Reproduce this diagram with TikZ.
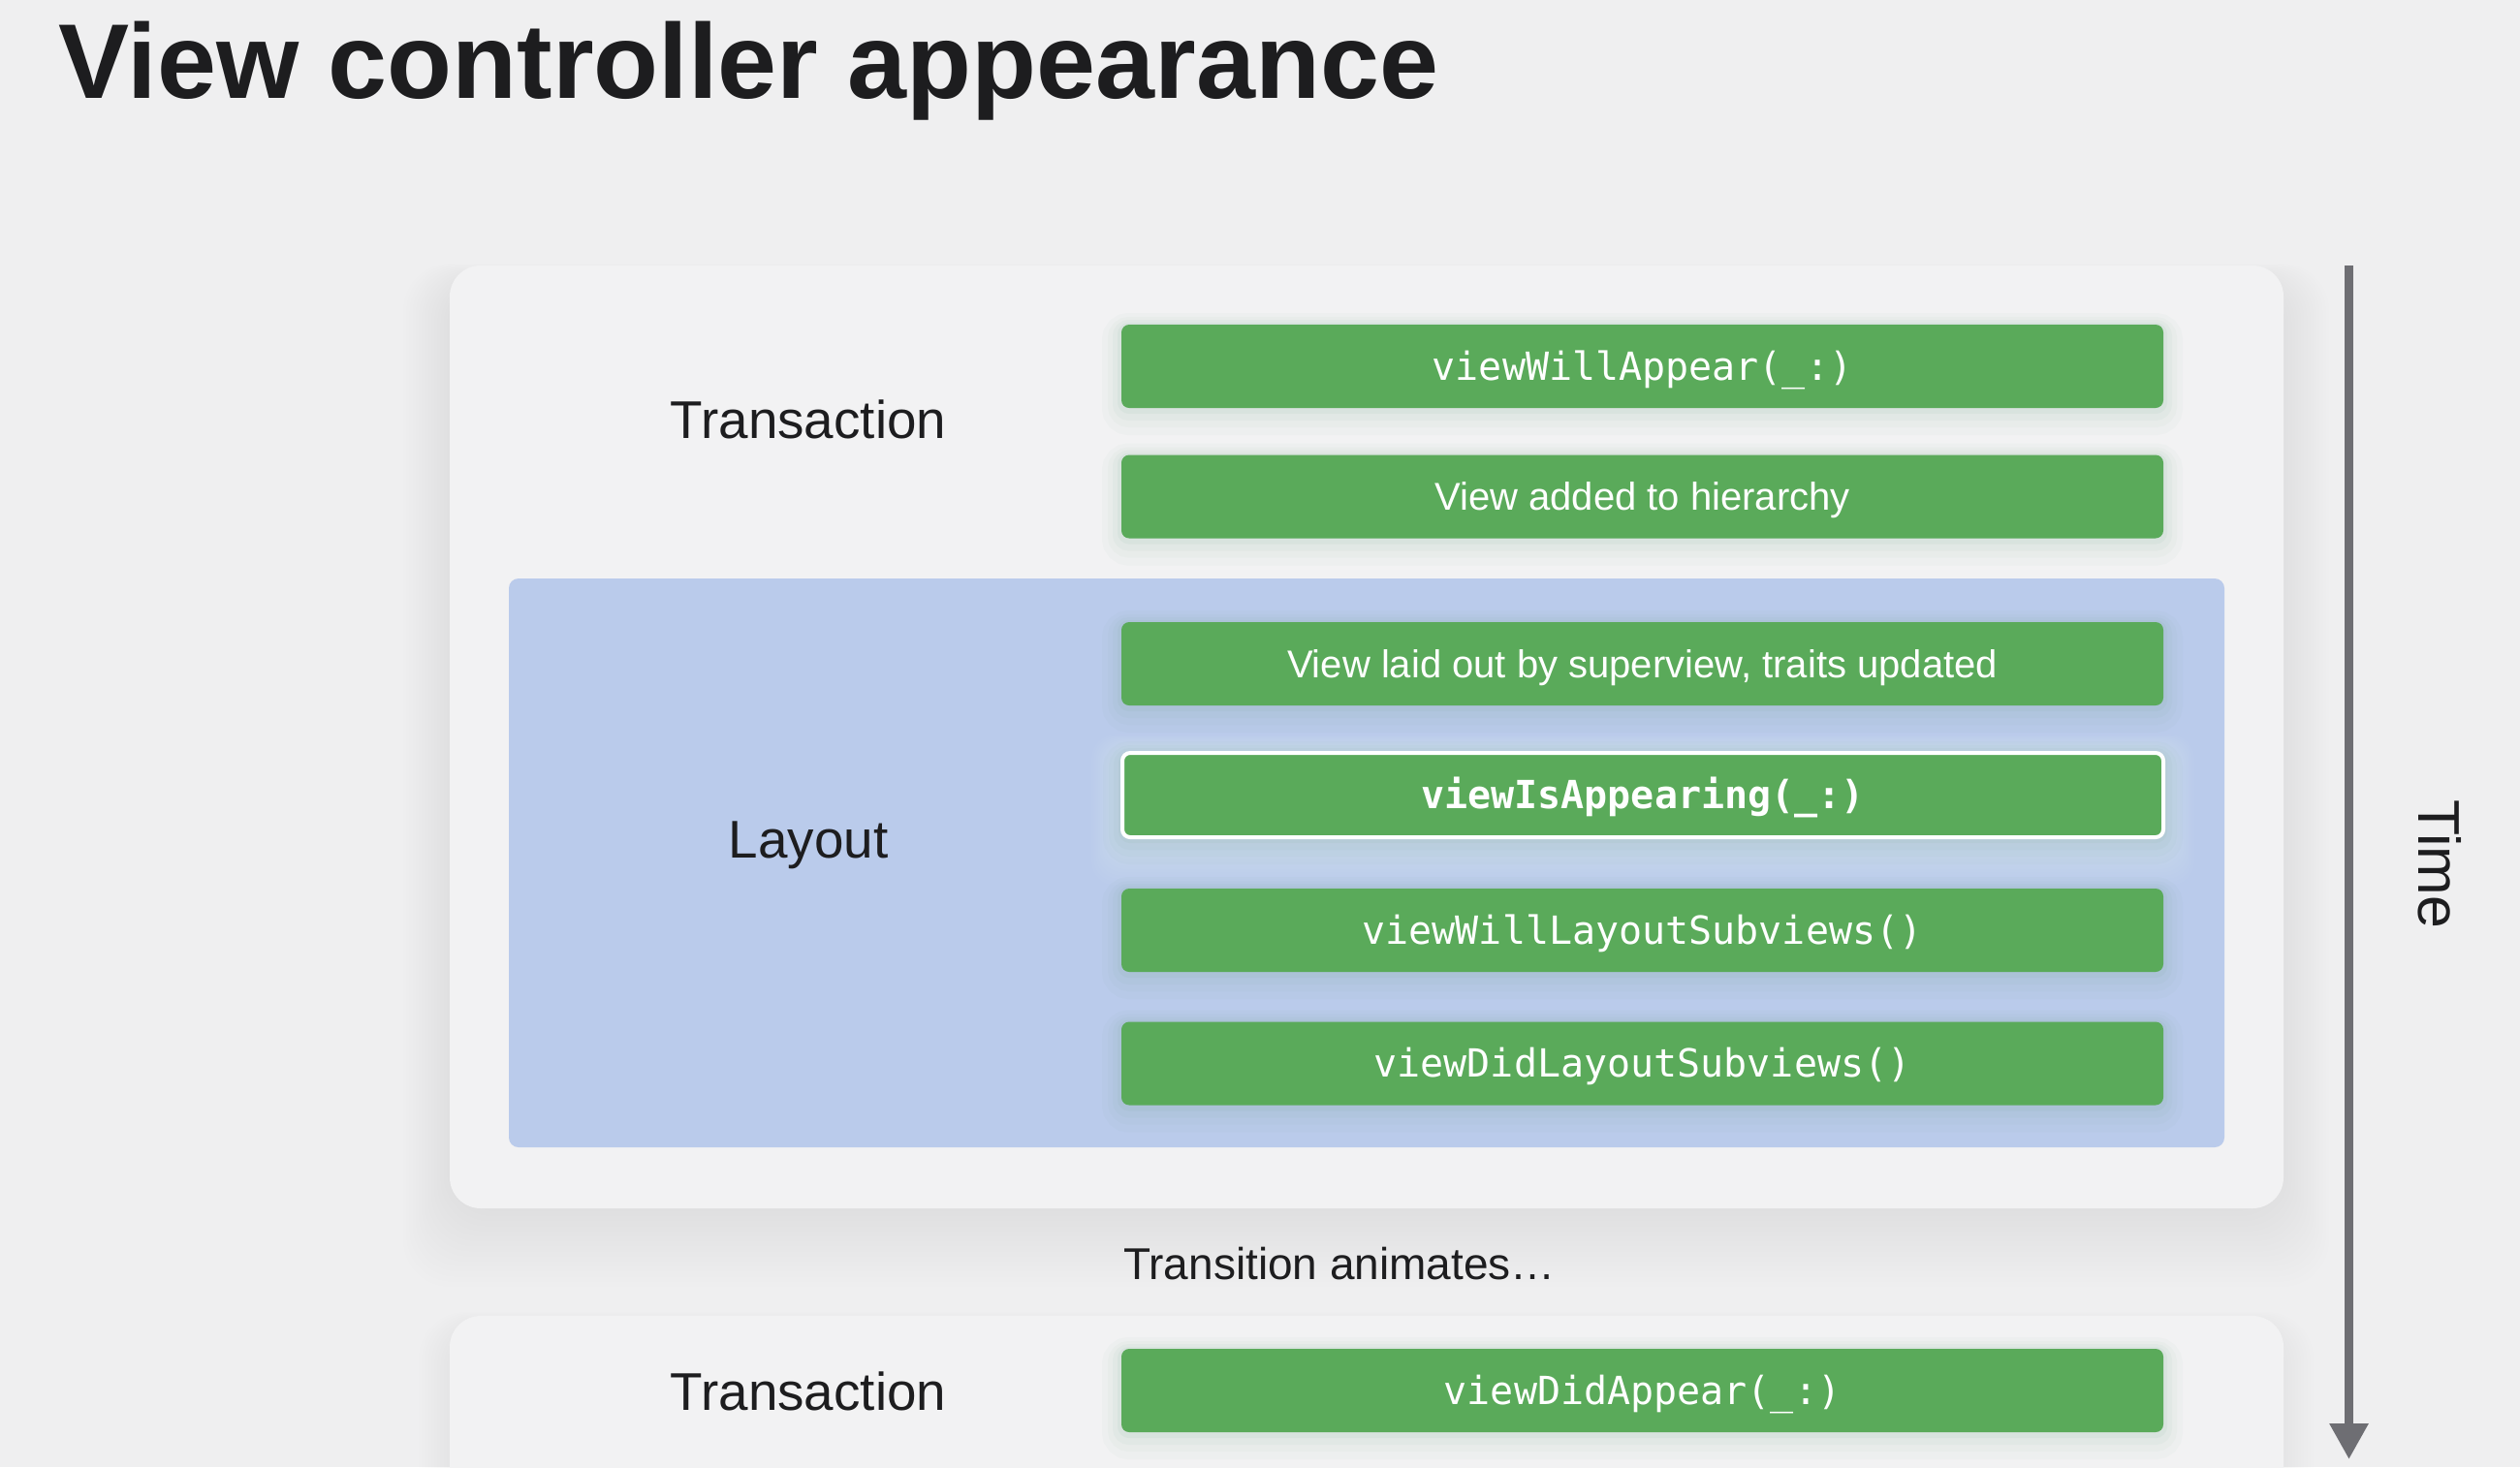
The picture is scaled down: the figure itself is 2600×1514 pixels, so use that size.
\documentclass[tikz,border=0pt]{standalone}
\usepackage{fontspec}
\setmainfont{Liberation Sans}
\newfontfamily\monof{DejaVu Sans Mono}
\usetikzlibrary{arrows.meta}
\definecolor{bg}{HTML}{EFEFF0}
\definecolor{card}{HTML}{F2F2F3}
\definecolor{layoutblue}{HTML}{BACBEB}
\definecolor{vcgreen}{HTML}{5AAA5A}
\definecolor{ink}{HTML}{1D1D1F}
\definecolor{timegray}{HTML}{6E6E73}
\definecolor{glowgreen}{HTML}{6FA888}
\tikzset{
  gbox/.style={rectangle, rounded corners=2pt, fill=vcgreen, inner sep=0pt,
    minimum width=268.75pt, minimum height=21.5pt, text=white,
    text height=7.2pt, text depth=0pt,
    preaction={draw=glowgreen, draw opacity=0.035, line width=10pt, transform canvas={yshift=-2pt}},
    preaction={draw=glowgreen, draw opacity=0.04, line width=7pt, transform canvas={yshift=-1.5pt}},
    preaction={draw=glowgreen, draw opacity=0.05, line width=4.5pt, transform canvas={yshift=-1pt}},
    preaction={draw=glowgreen, draw opacity=0.07, line width=2pt, transform canvas={yshift=-0.5pt}}},
  monotxt/.style={font=\fontsize{10pt}{12pt}\monof},
  monobold/.style={font=\fontsize{10pt}{12pt}\monof\bfseries},
  sanstxt/.style={font=\fontsize{10pt}{12pt}\selectfont},
  lbl/.style={inner sep=0pt, text=ink, font=\fontsize{13.7pt}{16pt}\selectfont,
    text height=9.8pt, text depth=0pt},
}
\begin{document}
\begin{tikzpicture}[x=0.25pt,y=-0.25pt]
\useasboundingbox (0,0) rectangle (2600,1514);
\clip (0,0) rectangle (2600,1514);
\fill[bg] (0,0) rectangle (2600,1514);

% soft shadow of the top card
\foreach \s in {0,4,...,60} {
  \fill[black, opacity=0.004, rounded corners=12pt]
    (464-\s*0.8,290-\s*0.3) rectangle (2355+\s*0.8,1250+\s*1.3);
}
% top card
\fill[card, rounded corners=8pt] (464,274) rectangle (2356,1247);

% soft shadow of the bottom card
\foreach \s in {0,4,...,40} {
  \fill[black, opacity=0.004, rounded corners=12pt]
    (464-\s*0.8,1366-\s*0.3) rectangle (2355+\s*0.8,1700);
}
\fill[card, rounded corners=8pt] (464,1358) rectangle (2356,1700);

% layout region
\fill[layoutblue, rounded corners=2.5pt] (525,597) rectangle (2295,1184);

% title
\node[anchor=base west, inner sep=0pt, text=ink,
  font=\fontsize{27.4pt}{33pt}\selectfont\bfseries] (title) at (60,101)
  {View controller appearance};

% labels
\node[lbl] (trans1) at (834,433) {Transaction};
\node[lbl] (layout) at (834,866) {Layout};
\node[lbl] (trans2) at (834,1436) {Transaction};
\node[anchor=base, inner sep=0pt, text=ink,
  font=\fontsize{11.5pt}{14pt}\selectfont] (anim) at (1382,1320)
  {Transition animates…};

% white glow under the highlighted step
\foreach \s in {2,5,...,44} {
  \fill[white, opacity=0.025, rounded corners=6pt]
    (1157-\s*0.7,776-\s*0.4) rectangle (2233+\s*0.7,865+\s*1.1);
}

% green steps
\node[gbox, monotxt] (b1) at (1694.5,378) {viewWillAppear(\_:)};
\node[gbox, sanstxt] (b2) at (1694.5,512.5) {View added to hierarchy};
\node[gbox, sanstxt] (b3) at (1694.5,685) {View laid out by superview, traits updated};
\node[gbox, monobold, draw=white, line width=1pt,
  minimum width=268.5pt, minimum height=21.75pt]
  (b4) at (1695,820.5) {viewIsAppearing(\_:)};
\node[gbox, monotxt] (b5) at (1694.5,960) {viewWillLayoutSubviews()};
\node[gbox, monotxt] (b6) at (1694.5,1097.5) {viewDidLayoutSubviews()};
\node[gbox, monotxt] (b7) at (1694.5,1435) {viewDidAppear(\_:)};

% time arrow
\coordinate (tstart) at (2423.5,274);
\coordinate (tend) at (2423.5,1506);
\draw[timegray, line width=2.25pt, -{Triangle[length=9.25pt,width=9.5pt]}]
  (tstart) -- (tend);
\node[rotate=-90, inner sep=0pt, text=ink, font=\fontsize{15.2pt}{18pt}\selectfont,
  text height=10.9pt, text depth=0pt] (time) at (2517,892) {Time};
\end{tikzpicture}
\end{document}
